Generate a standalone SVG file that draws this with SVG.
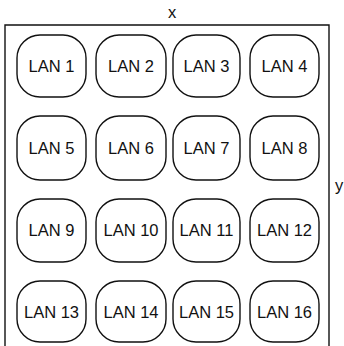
<svg xmlns="http://www.w3.org/2000/svg" width="344" height="346" viewBox="0 0 344 346">
<style>
.n rect{fill:#fff;stroke:#111;stroke-width:1.4}
.n text,.lbl{font-family:"Liberation Sans",Arial,sans-serif;font-size:16.5px;fill:#111;text-anchor:middle}
.frame{fill:none;stroke:#111;stroke-width:1.4}
</style>
<rect width="344" height="346" fill="#fff"/>
<g id="frame">
<path class="frame" d="M5,346 V25 H329 V346"/>
<text class="lbl" x="172" y="18">x</text>
<text class="lbl" x="339" y="191">y</text>
</g>
<g id="lan1" class="n"><rect x="17" y="35" width="69" height="62" rx="23"/><text x="51.5" y="72">LAN 1</text></g>
<g id="lan2" class="n"><rect x="96" y="35" width="70" height="62" rx="23"/><text x="131" y="72">LAN 2</text></g>
<g id="lan3" class="n"><rect x="173" y="35" width="67" height="62" rx="23"/><text x="206.5" y="72">LAN 3</text></g>
<g id="lan4" class="n"><rect x="250" y="35" width="69" height="62" rx="23"/><text x="284.5" y="72">LAN 4</text></g>
<g id="lan5" class="n"><rect x="17" y="116" width="69" height="64" rx="23"/><text x="51.5" y="154">LAN 5</text></g>
<g id="lan6" class="n"><rect x="96" y="116" width="70" height="64" rx="23"/><text x="131" y="154">LAN 6</text></g>
<g id="lan7" class="n"><rect x="173" y="116" width="67" height="64" rx="23"/><text x="206.5" y="154">LAN 7</text></g>
<g id="lan8" class="n"><rect x="250" y="116" width="69" height="64" rx="23"/><text x="284.5" y="154">LAN 8</text></g>
<g id="lan9" class="n"><rect x="17" y="199" width="69" height="63" rx="23"/><text x="51.5" y="236">LAN 9</text></g>
<g id="lan10" class="n"><rect x="96" y="199" width="70" height="63" rx="23"/><text x="131" y="236">LAN 10</text></g>
<g id="lan11" class="n"><rect x="173" y="199" width="67" height="63" rx="23"/><text x="206.5" y="236">LAN 11</text></g>
<g id="lan12" class="n"><rect x="250" y="199" width="69" height="63" rx="23"/><text x="284.5" y="236">LAN 12</text></g>
<g id="lan13" class="n"><rect x="17" y="281" width="69" height="61" rx="23"/><text x="51.5" y="318">LAN 13</text></g>
<g id="lan14" class="n"><rect x="96" y="281" width="70" height="61" rx="23"/><text x="131" y="318">LAN 14</text></g>
<g id="lan15" class="n"><rect x="173" y="281" width="67" height="61" rx="23"/><text x="206.5" y="318">LAN 15</text></g>
<g id="lan16" class="n"><rect x="250" y="281" width="69" height="61" rx="23"/><text x="284.5" y="318">LAN 16</text></g>
<g id="connectors"></g>
</svg>
